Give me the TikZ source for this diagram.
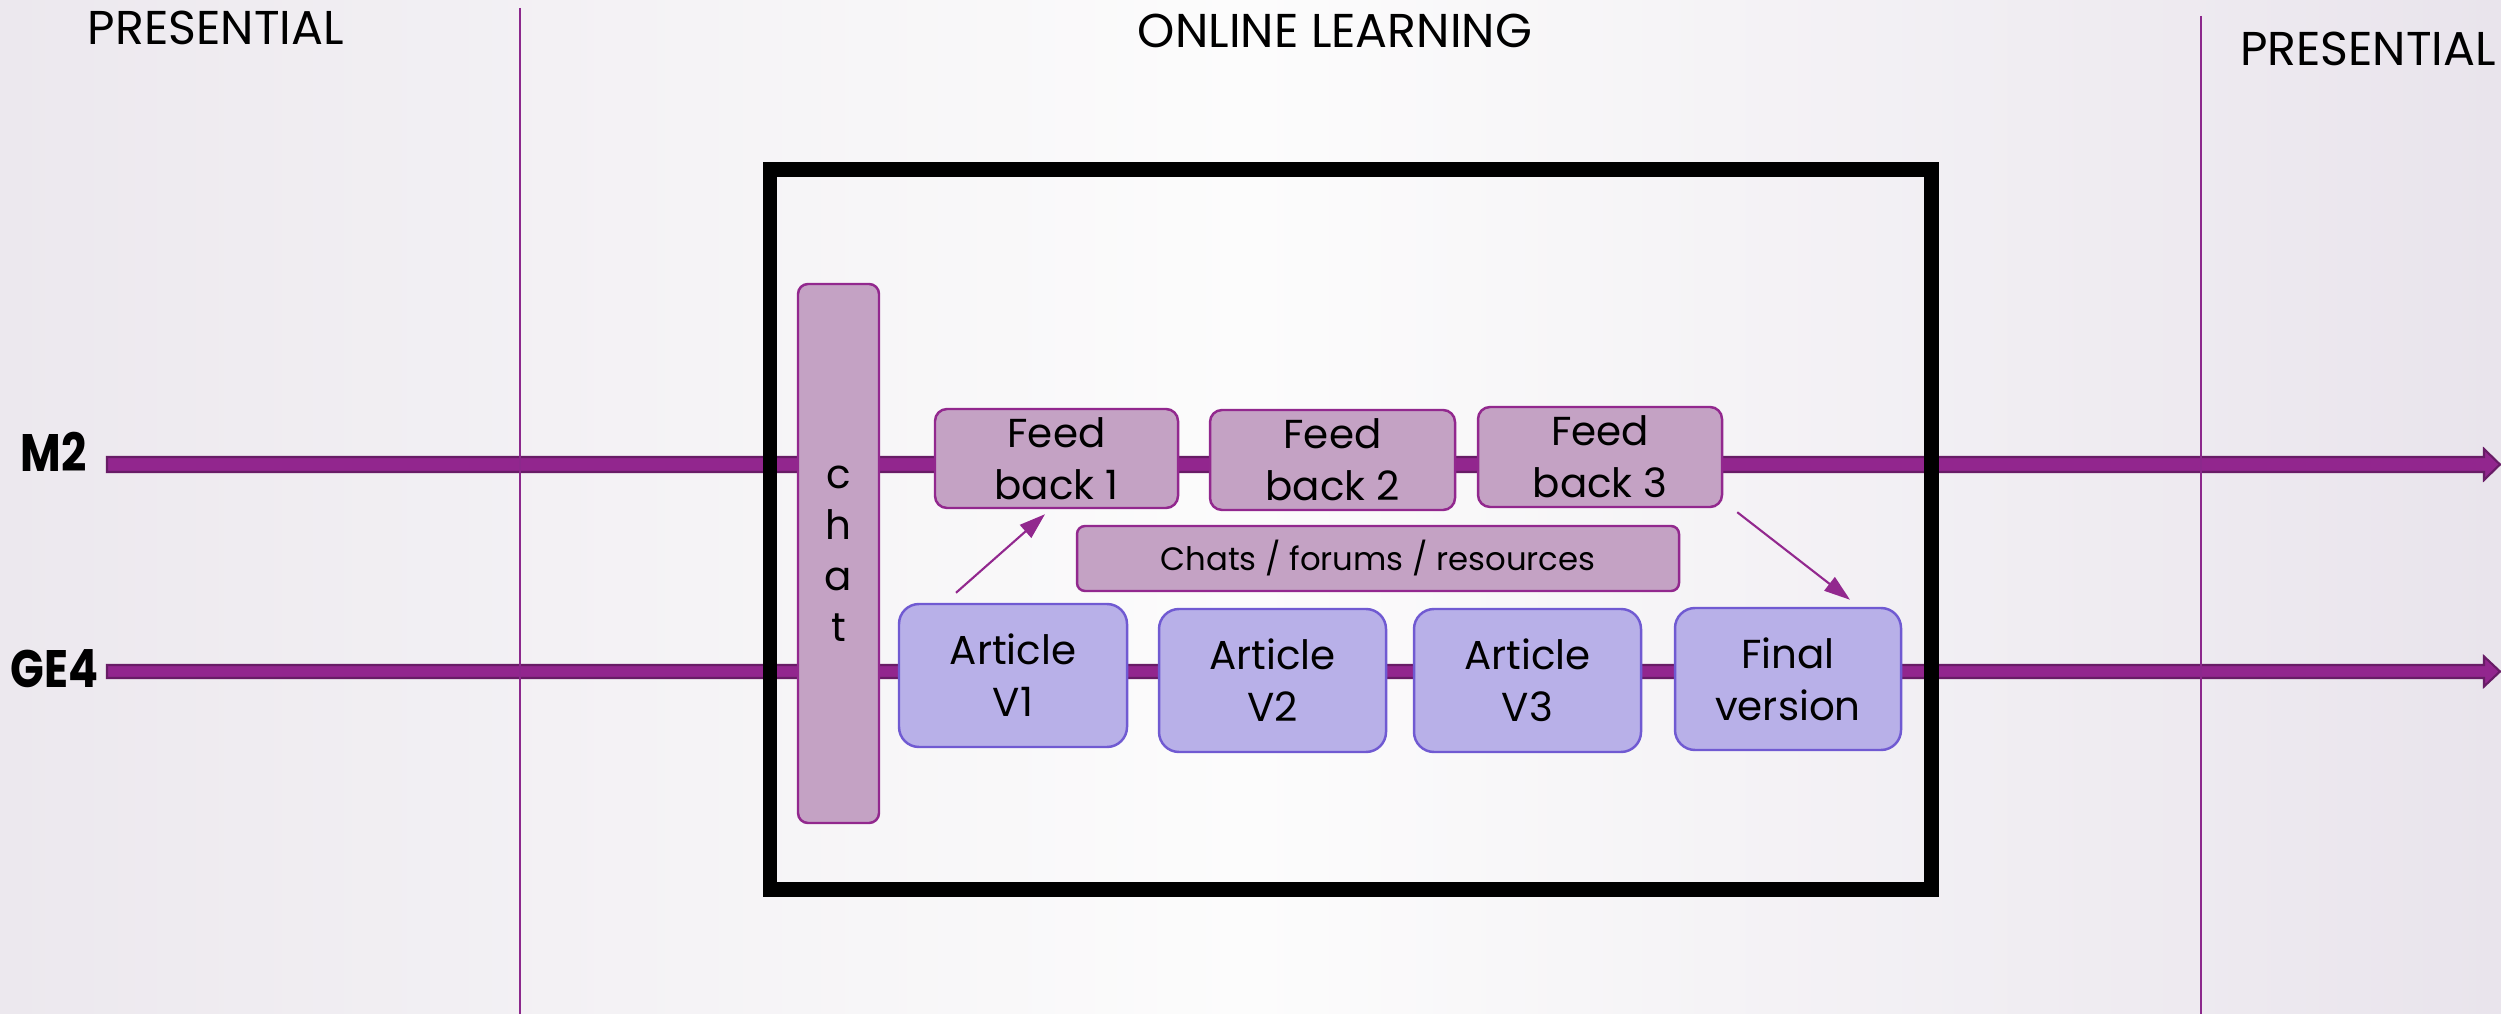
\documentclass[tikz,border=0pt]{standalone}
\usepackage{fontspec}
\setmainfont{Poppins}
\usetikzlibrary{arrows.meta}
\definecolor{lilacfill}{RGB}{196,162,196}
\definecolor{lilacdraw}{RGB}{146,40,142}
\definecolor{artfill}{RGB}{184,176,232}
\definecolor{artdraw}{RGB}{112,90,210}
\definecolor{tlfill}{RGB}{146,38,142}
\definecolor{tldraw}{RGB}{104,28,102}
\definecolor{vline}{RGB}{140,40,140}
\definecolor{bgedge}{RGB}{236,232,238}
\definecolor{bgedgeR}{RGB}{233,228,236}
\definecolor{bgmid}{RGB}{252,252,252}
\newcommand{\rowtext}[1]{\scalebox{0.84}[1]{#1}}
\begin{document}
\begin{tikzpicture}[x=1cm,y=1cm,
  boxtext/.style={align=center, inner sep=0pt, font=\fontsize{11.5}{14.8}\selectfont},
  lilacbox/.style={boxtext, draw=lilacdraw, fill=lilacfill, line width=0.7pt, rounded corners=0.12cm},
  artbox/.style={boxtext, draw=artdraw, fill=artfill, line width=0.7pt, rounded corners=0.2cm},
  thinarrow/.style={draw=lilacdraw, line width=0.6pt, -{Triangle[length=0.26cm,width=0.17cm]}},
  timeline/.style={fill=tlfill, draw=tldraw, line width=0.6pt},
  heading/.style={font=\fontsize{13.5}{16}\selectfont, anchor=base, inner sep=0pt},
  rowlabel/.style={font=\fontsize{15}{18}\selectfont\bfseries, anchor=base east, inner sep=0pt},
  divider/.style={draw=vline, line width=0.6pt}
]
\useasboundingbox (0,0) rectangle (25.01,-10.14);
\shade[left color=bgedge, right color=bgedgeR, middle color=bgmid] (0,0) rectangle (25.01,-10.14);

% headings
\node[heading] (presL) at (2.16,-0.45) {PRESENTIAL};
\node[heading] (online) at (13.35,-0.48) {ONLINE LEARNING};
\node[heading] (presR) at (23.68,-0.66) {PRESENTIAL};

% row labels
\node[rowlabel] (m2) at (0.87,-4.72) {\rowtext{M2}};
\node[rowlabel] (ge4) at (0.99,-6.87) {\rowtext{GE4}};

% timelines
\coordinate (m2s) at (1.07,-4.645);
\coordinate (m2e) at (25.00,-4.645);
\coordinate (ges) at (1.07,-6.715);
\coordinate (gee) at (25.00,-6.715);
\path[timeline] ([shift={(0,0.075)}]m2s) -- ([shift={(-0.16,0.075)}]m2e) -- ([shift={(-0.16,0.155)}]m2e)
  -- (m2e) -- ([shift={(-0.16,-0.155)}]m2e) -- ([shift={(-0.16,-0.075)}]m2e) -- ([shift={(0,-0.075)}]m2s) -- cycle;
\path[timeline] ([shift={(0,0.065)}]ges) -- ([shift={(-0.16,0.065)}]gee) -- ([shift={(-0.16,0.15)}]gee)
  -- (gee) -- ([shift={(-0.16,-0.15)}]gee) -- ([shift={(-0.16,-0.065)}]gee) -- ([shift={(0,-0.065)}]ges) -- cycle;

% dividers
\coordinate (dLt) at (5.20,-0.08);
\coordinate (dLb) at (5.20,-10.14);
\coordinate (dRt) at (22.01,-0.16);
\coordinate (dRb) at (22.01,-10.14);
\draw[divider] (dLt) -- (dLb);
\draw[divider] (dRt) -- (dRb);

% online frame
\draw[line width=0.145cm] (7.70,-1.695) rectangle (19.315,-8.895);

% nodes
\node[lilacbox, rounded corners=0.1cm, minimum width=0.81cm, minimum height=5.39cm,
  font=\fontsize{11.5}{14.5}\selectfont] (chat) at (8.385,-5.535) {c\\h\\a\\t};
\node[lilacbox, minimum width=2.43cm, minimum height=0.99cm] (fb1) at (10.565,-4.585) {Feed\\back 1};
\node[lilacbox, minimum width=2.45cm, minimum height=1.00cm] (fb2) at (13.325,-4.60) {Feed\\back 2};
\node[lilacbox, minimum width=2.44cm, minimum height=1.00cm] (fb3) at (16.00,-4.57) {Feed\\back 3};
\node[lilacbox, rounded corners=0.08cm, minimum width=6.02cm, minimum height=0.65cm,
  font=\fontsize{9.2}{11}\selectfont] (res) at (13.78,-5.585) {Chats / forums / resources};
\node[artbox, minimum width=2.28cm, minimum height=1.43cm] (a1) at (10.13,-6.755) {Article\\V1};
\node[artbox, minimum width=2.27cm, minimum height=1.43cm] (a2) at (12.725,-6.805) {Article\\V2};
\node[artbox, minimum width=2.27cm, minimum height=1.43cm] (a3) at (15.275,-6.805) {Article\\V3};
\node[artbox, minimum width=2.26cm, minimum height=1.42cm] (fin) at (17.88,-6.79) {Final\\version};

% arrows
\draw[thinarrow] ([shift={(-0.57,0.10)}]a1.north) -- ([shift={(-0.115,-0.05)}]fb1.south);
\draw[thinarrow] ([shift={(0.14,-0.04)}]fb3.south east) -- ([shift={(0.62,0.07)}]fin.north);
\end{tikzpicture}
\end{document}
